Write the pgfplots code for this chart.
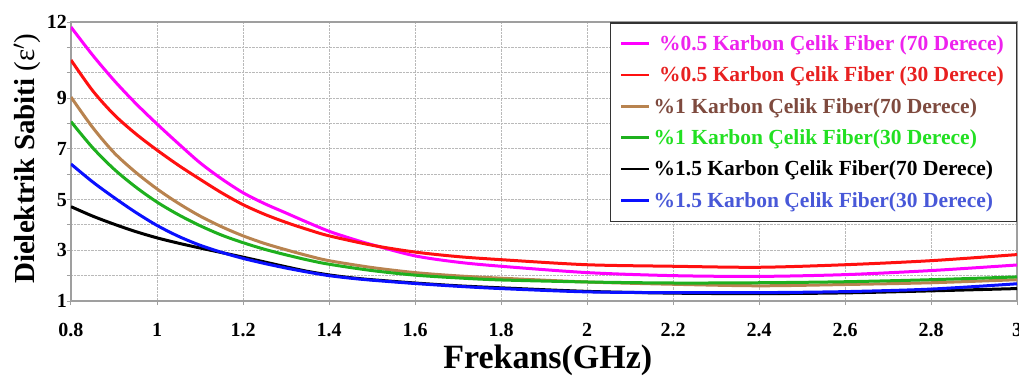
\documentclass[border=0pt]{standalone}
\usepackage{pgfplots}
\pgfplotsset{compat=1.18}
\usepackage{fontspec}
\setmainfont{Liberation Serif}
\definecolor{cMag}{HTML}{FF00FF}
\definecolor{cRed}{HTML}{FF1010}
\definecolor{cBrown}{HTML}{B8834F}
\definecolor{cGreen}{HTML}{1EB01E}
\definecolor{cBlue}{HTML}{0A10FF}
\definecolor{tBrown}{HTML}{7E4A3E}
\definecolor{tGreen}{HTML}{22E022}
\definecolor{tBlue}{HTML}{4858D8}
\definecolor{tMag}{HTML}{EE22EE}
\definecolor{tRed}{HTML}{E82020}
\begin{document}
\begin{tikzpicture}
\path[use as bounding box] (-71pt,-75pt) rectangle (948pt,301pt);
\begin{axis}[
  at={(0pt,0pt)}, anchor=south west,
  scale only axis, width=946pt, height=279pt,
  xmin=0.8, xmax=3, ymin=1, ymax=12,
  xtick={0.8,1,1.2,1.4,1.6,1.8,2,2.2,2.4,2.6,2.8,3},
  xticklabels={0.8,1,1.2,1.4,1.6,1.8,2,2.2,2.4,2.6,2.8,3},
  ytick={1,2,3,4,5,6,7,8,9,10,11,12},
  yticklabels={1,,3,,5,,7,,9,,,12},
  grid=major,
  major grid style={gray!55, densely dotted, line width=1pt},
  axis line style={gray!75, line width=1.6pt},
  tick align=outside, tick pos=left,
  major tick length=4pt,
  tick style={gray!75, line width=1pt},
  /pgf/number format/assume math mode=true,
  ticklabel style={font=\fontsize{20}{20}\selectfont\bfseries},
  xticklabel style={anchor=base, inner sep=0pt, yshift=-31pt},
  yticklabel style={anchor=east, inner sep=0pt},
  xlabel={Frekans(GHz)},
  xlabel style={font=\fontsize{34}{34}\selectfont\bfseries, at={(axis description cs:0.504,0)}, anchor=base, yshift=-67pt},
  ylabel={Dielektrik Sabiti {\mdseries(ε$'$)}},
  ylabel style={font=\fontsize{29}{29}\selectfont\bfseries, at={(axis description cs:-0.0465,0.51)}, anchor=center},
  legend cell align=left,
  legend style={at={(1,1)}, anchor=north east, draw=black!80, line width=1.5pt, fill=white,
    font=\fontsize{21.5}{21.5}\selectfont\bfseries, row sep=9pt, inner sep=9.5pt,
    nodes={inner sep=3pt}},
  legend image code/.code={\draw[#1, line width=2.5pt] (0pt,0pt) -- (28pt,0pt);},
]
\addplot[cMag, line width=3pt, smooth] coordinates {(0.8,11.8)(0.85,10.7)(0.9,9.7)(0.95,8.8)(1.0,7.98)(1.05,7.2)(1.1,6.45)(1.15,5.82)(1.2,5.27)(1.25,4.84)(1.3,4.47)(1.35,4.1)(1.4,3.75)(1.45,3.47)(1.5,3.22)(1.6,2.78)(1.7,2.53)(1.8,2.37)(2.0,2.12)(2.2,2.0)(2.4,1.97)(2.6,2.04)(2.8,2.2)(3.0,2.42)};
\addlegendentry{\textcolor{tMag}{\ \%0.5 Karbon Çelik Fiber (70 Derece)}}
\addplot[cRed, line width=3pt, smooth] coordinates {(0.8,10.5)(0.85,9.3)(0.9,8.35)(0.95,7.6)(1.0,6.95)(1.05,6.35)(1.1,5.8)(1.15,5.27)(1.2,4.8)(1.25,4.42)(1.3,4.1)(1.35,3.82)(1.4,3.57)(1.5,3.2)(1.6,2.93)(1.7,2.75)(1.8,2.63)(2.0,2.43)(2.2,2.37)(2.4,2.33)(2.6,2.43)(2.8,2.59)(3.0,2.83)};
\addlegendentry{\textcolor{tRed}{\ \%0.5 Karbon Çelik Fiber (30 Derece)}}
\addplot[cBrown, line width=3pt, smooth] coordinates {(0.8,9.04)(0.85,7.85)(0.9,6.85)(0.95,6.08)(1.0,5.42)(1.05,4.85)(1.1,4.35)(1.15,3.93)(1.2,3.57)(1.25,3.27)(1.3,3.02)(1.35,2.79)(1.4,2.59)(1.5,2.32)(1.6,2.12)(1.7,1.99)(1.8,1.9)(2.0,1.75)(2.2,1.66)(2.4,1.6)(2.6,1.65)(2.8,1.72)(3.0,1.84)};
\addlegendentry{\textcolor{tBrown}{\%1 Karbon Çelik Fiber(70 Derece)}}
\addplot[cGreen, line width=3pt, smooth] coordinates {(0.8,8.07)(0.85,7.05)(0.9,6.2)(0.95,5.5)(1.0,4.9)(1.05,4.4)(1.1,3.97)(1.15,3.6)(1.2,3.3)(1.25,3.04)(1.3,2.82)(1.35,2.62)(1.4,2.45)(1.5,2.2)(1.6,2.02)(1.7,1.91)(1.8,1.83)(2.0,1.75)(2.2,1.71)(2.4,1.72)(2.6,1.76)(2.8,1.84)(3.0,1.95)};
\addlegendentry{\textcolor{tGreen}{\%1 Karbon Çelik Fiber(30 Derece)}}
\addplot[black, line width=3pt, smooth] coordinates {(0.8,4.72)(0.85,4.35)(0.9,4.03)(0.95,3.74)(1.0,3.49)(1.05,3.28)(1.1,3.09)(1.15,2.91)(1.2,2.73)(1.25,2.54)(1.3,2.35)(1.35,2.17)(1.4,2.03)(1.45,1.92)(1.5,1.84)(1.6,1.71)(1.7,1.6)(1.8,1.52)(2.0,1.38)(2.2,1.31)(2.4,1.29)(2.6,1.32)(2.8,1.4)(3.0,1.49)};
\addlegendentry{\textcolor{black}{\%1.5 Karbon Çelik Fiber(70 Derece)}}
\addplot[cBlue, line width=3pt, smooth] coordinates {(0.8,6.4)(0.85,5.7)(0.9,5.08)(0.95,4.5)(1.0,3.98)(1.05,3.55)(1.1,3.2)(1.15,2.92)(1.2,2.68)(1.25,2.48)(1.3,2.3)(1.35,2.14)(1.4,2.0)(1.45,1.9)(1.5,1.82)(1.6,1.69)(1.7,1.58)(1.8,1.49)(2.0,1.36)(2.2,1.33)(2.4,1.33)(2.6,1.37)(2.8,1.47)(3.0,1.68)};
\addlegendentry{\textcolor{tBlue}{\%1.5 Karbon Çelik Fiber(30 Derece)}}
\end{axis}
\end{tikzpicture}
\end{document}
